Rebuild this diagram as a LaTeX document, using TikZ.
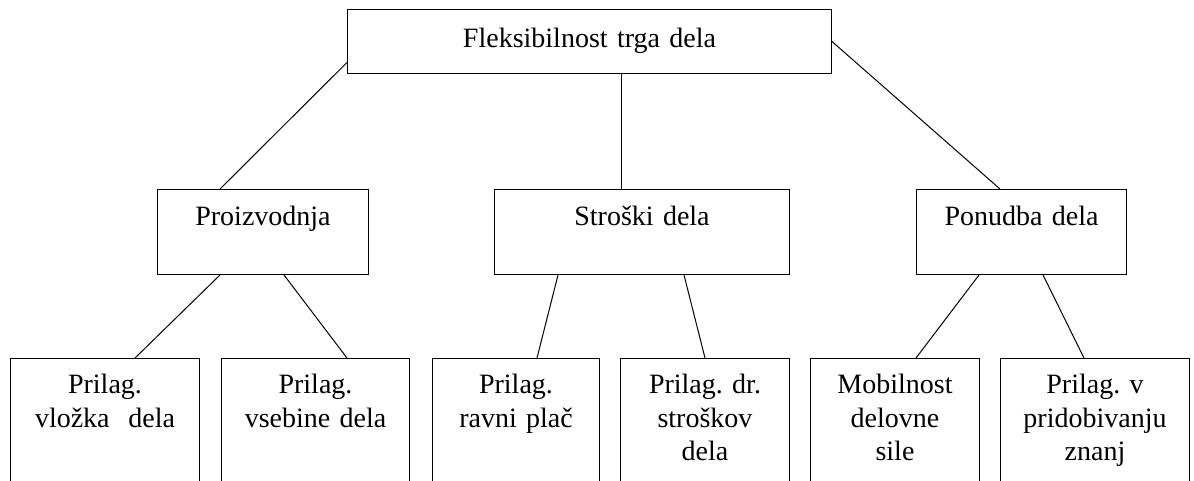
\documentclass[tikz,border=0pt]{standalone}
\usepackage{fontspec}
\setmainfont{Liberation Serif}
\frenchspacing
\tikzset{%
  % Specifications for style of nodes:
      base/.style = {rectangle, draw=black, line width=1pt, inner sep=0pt,
                     anchor=north west, align=center,
                     font=\fontsize{28}{33.5}\selectfont},
    topbox/.style = {base, text width=484pt, text height=38pt, text depth=26pt},
    midbox/.style = {base, text height=36pt, text depth=49pt},
   leafbox/.style = {base, text height=35pt, text depth=102pt},
      link/.style = {draw=black, line width=1pt}
}
\begin{document}
\begin{tikzpicture}[x=1pt, y=-1pt]
  \useasboundingbox (0,0) rectangle (1194,480);
  % Specification of nodes (position, etc.)
  \node (flex)    [topbox] at (347,9)                      {Fleksibilnost trga dela};

  \node (prod)    [midbox, text width=211pt] at (157,189)  {Proizvodnja};
  \node (cost)    [midbox, text width=295pt] at (494,189)  {Stroški dela};
  \node (supply)  [midbox, text width=210pt] at (916,189)  {Ponudba dela};

  \node (input)   [leafbox, text width=189pt] at (10,358)   {Prilag.\\ vložka~ dela};
  \node (content) [leafbox, text width=188pt] at (221,358)  {Prilag.\\ vsebine dela};
  \node (wage)    [leafbox, text width=167pt] at (432,358)  {Prilag.\\ ravni plač};
  \node (othcost) [leafbox, text width=169pt] at (620,358)  {Prilag. dr.\\ stroškov\\ dela};
  \node (mobil)   [leafbox, text width=169pt] at (810,358)  {Mobilnost\\ delovne\\ sile};
  \node (skill)   [leafbox, text width=189pt] at (1000,358) {Prilag. v\\ pridobivanju\\ znanj};

  \draw[link] ([yshift=-21pt]flex.west) -- ([xshift=63pt]prod.north west);
  \draw[link] ([xshift=32pt]flex.south) -- ([xshift=-20.5pt]cost.north);
  \draw[link] (flex.east) -- ([xshift=84pt]supply.north west);

  \draw[link] ([xshift=63pt]prod.south west)    -- ([xshift=125pt]input.north west);
  \draw[link] ([xshift=127pt]prod.south west)   -- ([xshift=126pt]content.north west);
  \draw[link] ([xshift=64pt]cost.south west)    -- ([xshift=105pt]wage.north west);
  \draw[link] ([xshift=190pt]cost.south west)   -- ([xshift=85pt]othcost.north west);
  \draw[link] ([xshift=63pt]supply.south west)  -- ([xshift=106pt]mobil.north west);
  \draw[link] ([xshift=127pt]supply.south west) -- ([xshift=84pt]skill.north west);
\end{tikzpicture}
\end{document}
